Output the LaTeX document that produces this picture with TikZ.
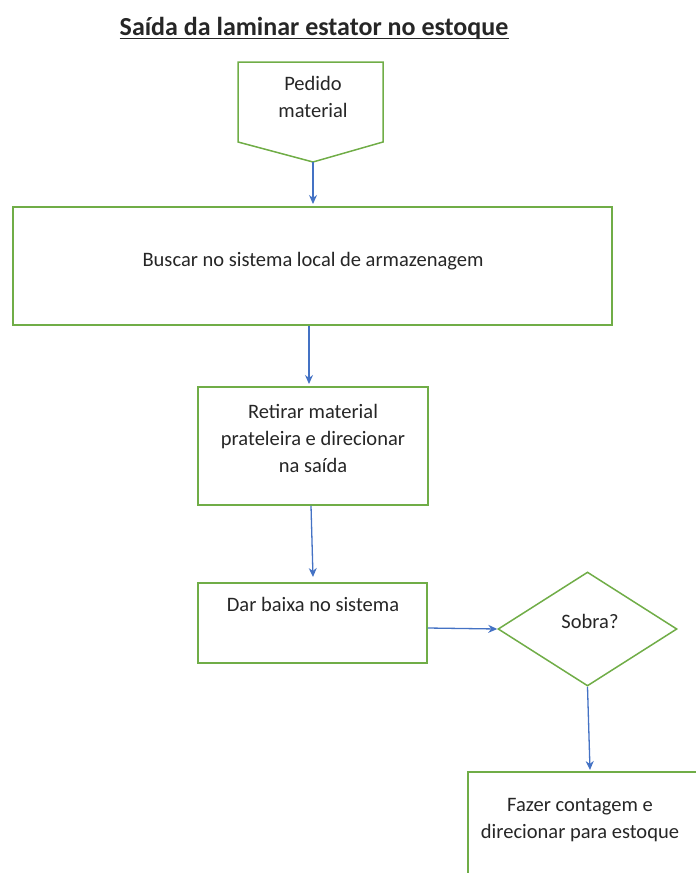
\documentclass[tikz,border=0pt]{standalone}
\usepackage{fontspec}
\setmainfont{Carlito}
\usetikzlibrary{shapes.geometric,arrows.meta}
\definecolor{boxgreen}{RGB}{112,173,71}
\definecolor{arrowblue}{RGB}{68,114,196}
\definecolor{txtgray}{RGB}{38,38,38}
\begin{document}
\begin{tikzpicture}[x=1pt,y=-1pt,
  box/.style={draw=boxgreen,line width=1.5pt,fill=white,inner sep=0pt},
  lbl/.style={text=txtgray,font=\fontsize{20.5}{27}\selectfont,align=center,inner sep=0pt},
  conn/.style={draw=arrowblue,line width=1.3pt,-{Stealth[length=9pt,width=8pt]}}]
\useasboundingbox (0,0) rectangle (696,873);
\clip (0,0) rectangle (696,873);
% title
\node[text=txtgray,font=\fontsize{26}{30}\selectfont\bfseries,anchor=base,inner sep=0pt] (title) at (314,35) {Saída da laminar estator no estoque};
\draw[txtgray,line width=1.8pt] (title.base west) ++(0,3.5) -- ([yshift=-3.5pt]title.base east);
% pentagon
\coordinate (p1) at (238,62);
\coordinate (p2) at (383,62);
\coordinate (p3) at (383,142);
\coordinate (ptip) at (313,162);
\coordinate (p5) at (238,142);
\draw[draw=boxgreen,line width=1.5pt] (p1) -- (p2) -- (p3) -- (ptip) -- (p5) -- cycle;
\node[lbl,anchor=base] (pedido) at (313,117) {Pedido\\material};
% box 2
\node[box,minimum width=599pt,minimum height=118pt] (b2) at (312.5,266) {};
\node[lbl,anchor=base] (t2) at (313,266) {Buscar no sistema local de armazenagem};
% box 3
\node[box,minimum width=230pt,minimum height=118pt] (b3) at (313,446) {};
\node[lbl,anchor=base] (t3) at (313,472) {Retirar material\\prateleira e direcionar\\na saída};
% box 4
\node[box,minimum width=229pt,minimum height=80pt] (b4) at (312.5,623) {};
\node[lbl,anchor=base] (t4) at (313,611) {Dar baixa no sistema};
% diamond
\node[box,diamond,minimum width=179pt,minimum height=114pt] (d) at (587.5,629) {};
\node[lbl,anchor=base] (td) at (590,628) {Sobra?};
% box 6
\node[box,anchor=north west,minimum width=260pt,minimum height=140pt] (b6) at (467,771) {};
\node[lbl,anchor=base] (t6) at (580,838) {Fazer contagem e\\direcionar para estoque};
% connectors
\draw[conn] (ptip) -- (313,204);
\draw[conn] (b2.south -| 309,0) -- (309,384);
\draw[conn] (b3.south -| 311,0) -- (313,577);
\draw[conn] (b4.east |- 0,628) -- (d.west);
\draw[conn] (d.south) -- (590,770);
\end{tikzpicture}
\end{document}
